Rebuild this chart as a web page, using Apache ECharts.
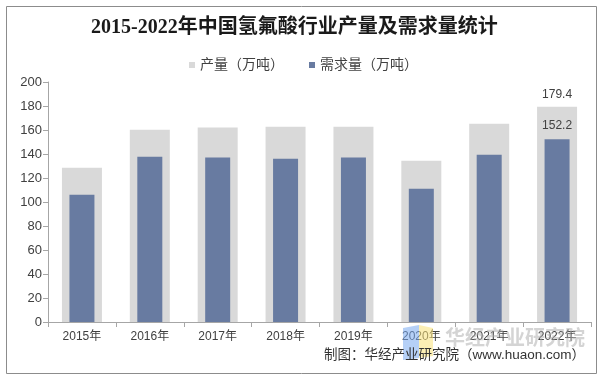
<!DOCTYPE html>
<html>
<head>
<meta charset="utf-8">
<script src="https://cdn.jsdelivr.net/npm/echarts@6/dist/echarts.min.js"></script>
<style>html,body{margin:0;padding:0;background:#fff;}#c{width:605px;height:382px;}</style>
</head>
<body>
<div id="c"></div>
<script>
const categories = ['2015年','2016年','2017年','2018年','2019年','2020年','2021年','2022年'];
const production = [128.5, 160.3, 162.0, 162.8, 162.8, 134.4, 165.3, 179.4];
const demand = [106.0, 137.7, 137.0, 136.1, 137.0, 111.0, 139.4, 152.2];
const seriesNames = ['产量（万吨）', '需求量（万吨）'];
const yMin = 0, yMax = 200, yStep = 20;
const labelledIndex = [7];

const SANS = '"Liberation Sans","Noto Sans CJK SC",sans-serif';
const chart = echarts.init(document.getElementById('c'), null, {renderer: 'canvas'});
const labelFmt = p => labelledIndex.includes(p.dataIndex) ? p.value.toFixed(1) : '';

chart.setOption({
  animation: false,
  backgroundColor: '#fff',
  title: {
    text: '2015-2022年中国氢氟酸行业产量及需求量统计',
    left: 86, top: 13,
    textStyle: {fontSize: 20, fontWeight: 'bold', color: '#1a1a1a', fontFamily: '"Liberation Serif","Noto Sans CJK SC",serif'}
  },
  legend: {
    left: 184, top: 53,
    itemWidth: 6, itemHeight: 6, itemGap: 25,
    icon: 'rect',
    textStyle: {fontSize: 14, color: '#404040', fontFamily: SANS},
    data: seriesNames
  },
  grid: {left: 48, right: 14, top: 82, bottom: 60, containLabel: false},
  xAxis: [{
    type: 'category', data: categories,
    axisLine: {lineStyle: {color: '#a6a6a6'}},
    axisTick: {show: true, length: 5, lineStyle: {color: '#a6a6a6'}},
    axisLabel: {fontSize: 12, color: '#404040', margin: 9, fontFamily: SANS}
  }, {
    type: 'category', data: categories, show: false
  }],
  yAxis: {
    type: 'value', min: yMin, max: yMax, interval: yStep,
    axisLine: {show: true, lineStyle: {color: '#a6a6a6'}},
    axisTick: {show: true, length: 5, lineStyle: {color: '#a6a6a6'}},
    splitLine: {show: false},
    axisLabel: {fontSize: 13, color: '#404040', margin: 6, fontFamily: SANS}
  },
  series: [{
    name: seriesNames[0], type: 'bar', data: production, xAxisIndex: 0,
    barWidth: 40, itemStyle: {color: '#d9d9d9'}, z: 2,
    label: {show: true, position: 'top', distance: 6, fontSize: 12, color: '#404040', fontFamily: SANS, formatter: labelFmt}
  }, {
    name: seriesNames[1], type: 'bar', data: demand, xAxisIndex: 1,
    barWidth: 25, itemStyle: {color: '#687ba1'}, z: 3,
    label: {show: true, position: 'top', distance: 8, fontSize: 12, color: '#404040', fontFamily: SANS, formatter: labelFmt}
  }],
  graphic: [
    {type: 'rect', z: 0, silent: true, shape: {x: 6.5, y: 6.5, width: 590, height: 367}, style: {fill: 'none', stroke: '#8c8c8c', lineWidth: 1}},
    {type: 'polygon', z: 100, silent: true, shape: {points: [[403,328],[419,325],[419,358],[403,360]]}, style: {fill: 'rgba(120,170,240,0.55)'}},
    {type: 'polygon', z: 100, silent: true, shape: {points: [[419,325],[433,328],[433,356],[419,358]]}, style: {fill: 'rgba(250,225,120,0.55)'}},
    {type: 'text', z: 100, silent: true, x: 445, y: 337, style: {text: '华经产业研究院', font: 'bold 20px "Noto Sans CJK SC"', fill: 'rgba(170,170,170,0.5)', verticalAlign: 'middle'}},
    {type: 'text', z: 101, silent: true, x: 585, y: 355, style: {text: '制图：华经产业研究院（www.huaon.com）', font: '13.5px "Liberation Sans","Noto Sans CJK SC"', fill: '#333', align: 'right', verticalAlign: 'middle'}}
  ]
});
</script>
</body>
</html>
